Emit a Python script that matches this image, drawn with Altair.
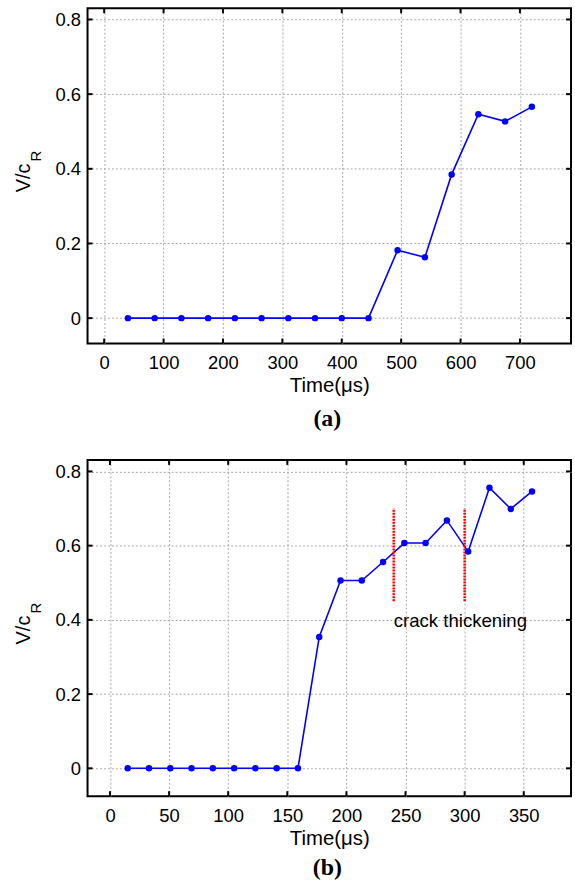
import altair as alt
import pandas as pd

# ---------------- data ----------------
# Panel (a)
time_a = [40, 85, 130, 175, 220, 265, 310, 355, 400, 445, 494, 540, 585, 630, 675, 720]
v_a = [0, 0, 0, 0, 0, 0, 0, 0, 0, 0, 0.182, 0.163, 0.385, 0.546, 0.527, 0.566]
xticks_a = [0, 100, 200, 300, 400, 500, 600, 700]
xdom_a = [-28, 786]
ydom_a = [-0.068, 0.83]

# Panel (b)
time_b = [15, 33, 51, 69, 87, 105, 123, 141, 159, 177, 195, 213, 231, 249, 267, 285, 303, 321, 339, 357]
v_b = [0, 0, 0, 0, 0, 0, 0, 0, 0, 0.354, 0.506, 0.506, 0.556, 0.607, 0.607, 0.668, 0.584, 0.756, 0.699, 0.746]
xticks_b = [0, 50, 100, 150, 200, 250, 300, 350]
xdom_b = [-19, 390]
ydom_b = [-0.075, 0.831]

yticks = [0, 0.2, 0.4, 0.6, 0.8]

marker_times = [240, 300]
marker_low = [0.45, 0.45]
marker_high = [0.70, 0.70]
annot_text = ["crack thickening"]
annot_t = [240]
annot_v = [0.382]

x_title = "Time(μs)"
captions = ["(a)", "(b)"]

BLUE = "#0000ff"
SANS = "Liberation Sans"
SERIF = "Liberation Serif"
W = 486


def panel(times, vals, xdom, ydom, xticks, H, caption, cap_dy, extra=False):
    df = pd.DataFrame({"t": times, "v": vals})
    xs = alt.Scale(domain=xdom, nice=False, zero=False)
    ys = alt.Scale(domain=ydom, nice=False, zero=False)
    xaxis = alt.Axis(values=xticks, title=x_title, grid=True, ticks=False, domain=False,
                     labelPadding=10, titlePadding=4, labelFlush=False)
    yaxis = alt.Axis(values=yticks, title=None, grid=True, ticks=False, domain=False,
                     labelPadding=7, labelExpr="datum.value == 0 ? '0' : format(datum.value, '.1f')")
    X = alt.X("t:Q", scale=xs, axis=xaxis)
    Y = alt.Y("v:Q", scale=ys, axis=yaxis)

    base = alt.Chart(df)
    line = base.mark_line(color=BLUE, strokeWidth=1.6).encode(x=X, y=Y)
    pts = base.mark_circle(size=42, color=BLUE, opacity=1).encode(x=X, y=Y)

    xt = alt.Chart(pd.DataFrame({"t": xticks}))
    yt = alt.Chart(pd.DataFrame({"v": yticks}))
    top_t = xt.mark_rule(color="black", strokeWidth=2).encode(
        x=X, y=alt.value(0), y2=alt.value(5))
    bot_t = xt.mark_rule(color="black", strokeWidth=2).encode(
        x=X, y=alt.value(H - 5), y2=alt.value(H))
    left_t = yt.mark_rule(color="black", strokeWidth=2).encode(
        y=Y, x=alt.value(0), x2=alt.value(5))
    right_t = yt.mark_rule(color="black", strokeWidth=2).encode(
        y=Y, x=alt.value(W - 5), x2=alt.value(W))

    one = alt.Chart(pd.DataFrame({"k": [0]}))
    ytitle = one.mark_text(text="V/c", angle=270, font=SANS, fontSize=20, color="black",
                           align="center", baseline="middle").encode(
        x=alt.value(-64), y=alt.value(H / 2 + 2))
    ysub = one.mark_text(text="R", angle=270, font=SANS, fontSize=15, color="black",
                         align="center", baseline="middle").encode(
        x=alt.value(-52), y=alt.value(H / 2 - 20))
    cap = one.mark_text(text=caption, font=SERIF, fontWeight="bold", fontSize=24, color="black",
                        align="center", baseline="middle").encode(
        x=alt.value(W / 2 - 2), y=alt.value(H + cap_dy))

    layers = [line]
    if extra:
        mk = pd.DataFrame({"t": marker_times, "v": marker_low, "v2": marker_high})
        red = alt.Chart(mk).mark_rule(color="#ff0000", strokeWidth=2.5, strokeDash=[2, 1]).encode(
            x=X, y=Y, y2="v2:Q",
        )
        an = pd.DataFrame({"t": annot_t, "v": annot_v, "s": annot_text})
        txt = alt.Chart(an).mark_text(font=SANS, fontSize=18.7, color="black", align="left",
                                      baseline="alphabetic").encode(
            x=X, y=Y, text="s:N",
        )
        layers += [red, txt]
    layers += [pts, top_t, bot_t, left_t, right_t, ytitle, ysub, cap]
    return alt.layer(*layers).properties(width=W, height=H)


pa = panel(time_a, v_a, xdom_a, ydom_a, xticks_a, 337, captions[0], 76)
pb = panel(time_b, v_b, xdom_b, ydom_b, xticks_b, 338, captions[1], 72, extra=True)

chart = alt.vconcat(pa, pb, spacing=117, bounds="flush").properties(
    padding={"left": 13, "top": 4, "right": 2, "bottom": 4},
    background="white",
).configure_view(
    stroke="black", strokeWidth=2
).configure_axis(
    labelFont=SANS, labelFontSize=18.5, labelColor="black",
    titleFont=SANS, titleFontSize=20.5, titleFontWeight="normal", titleColor="black",
    gridColor="#a8a8a8", gridDash=[2, 2], gridWidth=1,
)

chart.save("out.html", embed_options={"renderer": "svg", "actions": False})
